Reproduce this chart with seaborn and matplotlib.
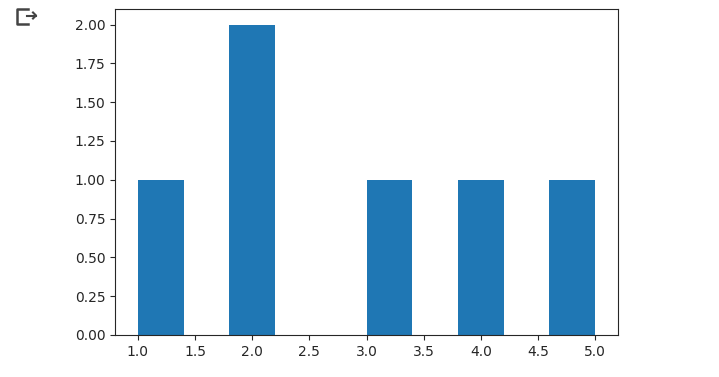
import matplotlib
matplotlib.use("Agg")
import matplotlib.pyplot as plt
import matplotlib.ticker as mticker
from matplotlib.lines import Line2D
import seaborn as sns

values = [1, 2, 2, 3, 4, 5]
n_bins = 10

fig = plt.figure(figsize=(7.19, 3.77), dpi=100)
ax = fig.add_axes([115/719, 1 - 335/377, (618-115)/719, (335-9)/377])

sns.histplot(x=values, bins=n_bins, binrange=(1, 5), color="#1f77b4",
             alpha=1.0, edgecolor="none", linewidth=0, ax=ax)
ax.set_ylabel("")
ax.set_xlabel("")
ax.yaxis.set_major_locator(mticker.MultipleLocator(0.25))
ax.yaxis.set_major_formatter(mticker.FormatStrFormatter("%.2f"))
ax.xaxis.set_major_locator(mticker.MultipleLocator(0.5))
ax.set_xlim(0.8, 5.2)
ax.set_ylim(0, 2.1)
ax.tick_params(labelsize=10, colors="#262626", labelcolor="#262626")
for s in ax.spines.values():
    s.set_color("#262626")

# output icon (decoration)
W, H = 719, 377
def fx(x): return x / W
def fy(y): return 1 - y / H
c = "#444444"
fig.add_artist(Line2D([fx(28), fx(17), fx(17), fx(28)], [fy(9), fy(9), fy(24), fy(24)],
                      color=c, lw=1.8, transform=fig.transFigure))
fig.add_artist(Line2D([fx(27), fx(36)], [fy(15.5), fy(15.5)], color=c, lw=1.5,
                      transform=fig.transFigure))
fig.add_artist(Line2D([fx(33), fx(36), fx(33)], [fy(12.5), fy(15.5), fy(18.5)], color=c, lw=1.5,
                      transform=fig.transFigure))

fig.savefig("out.png", dpi=100)
